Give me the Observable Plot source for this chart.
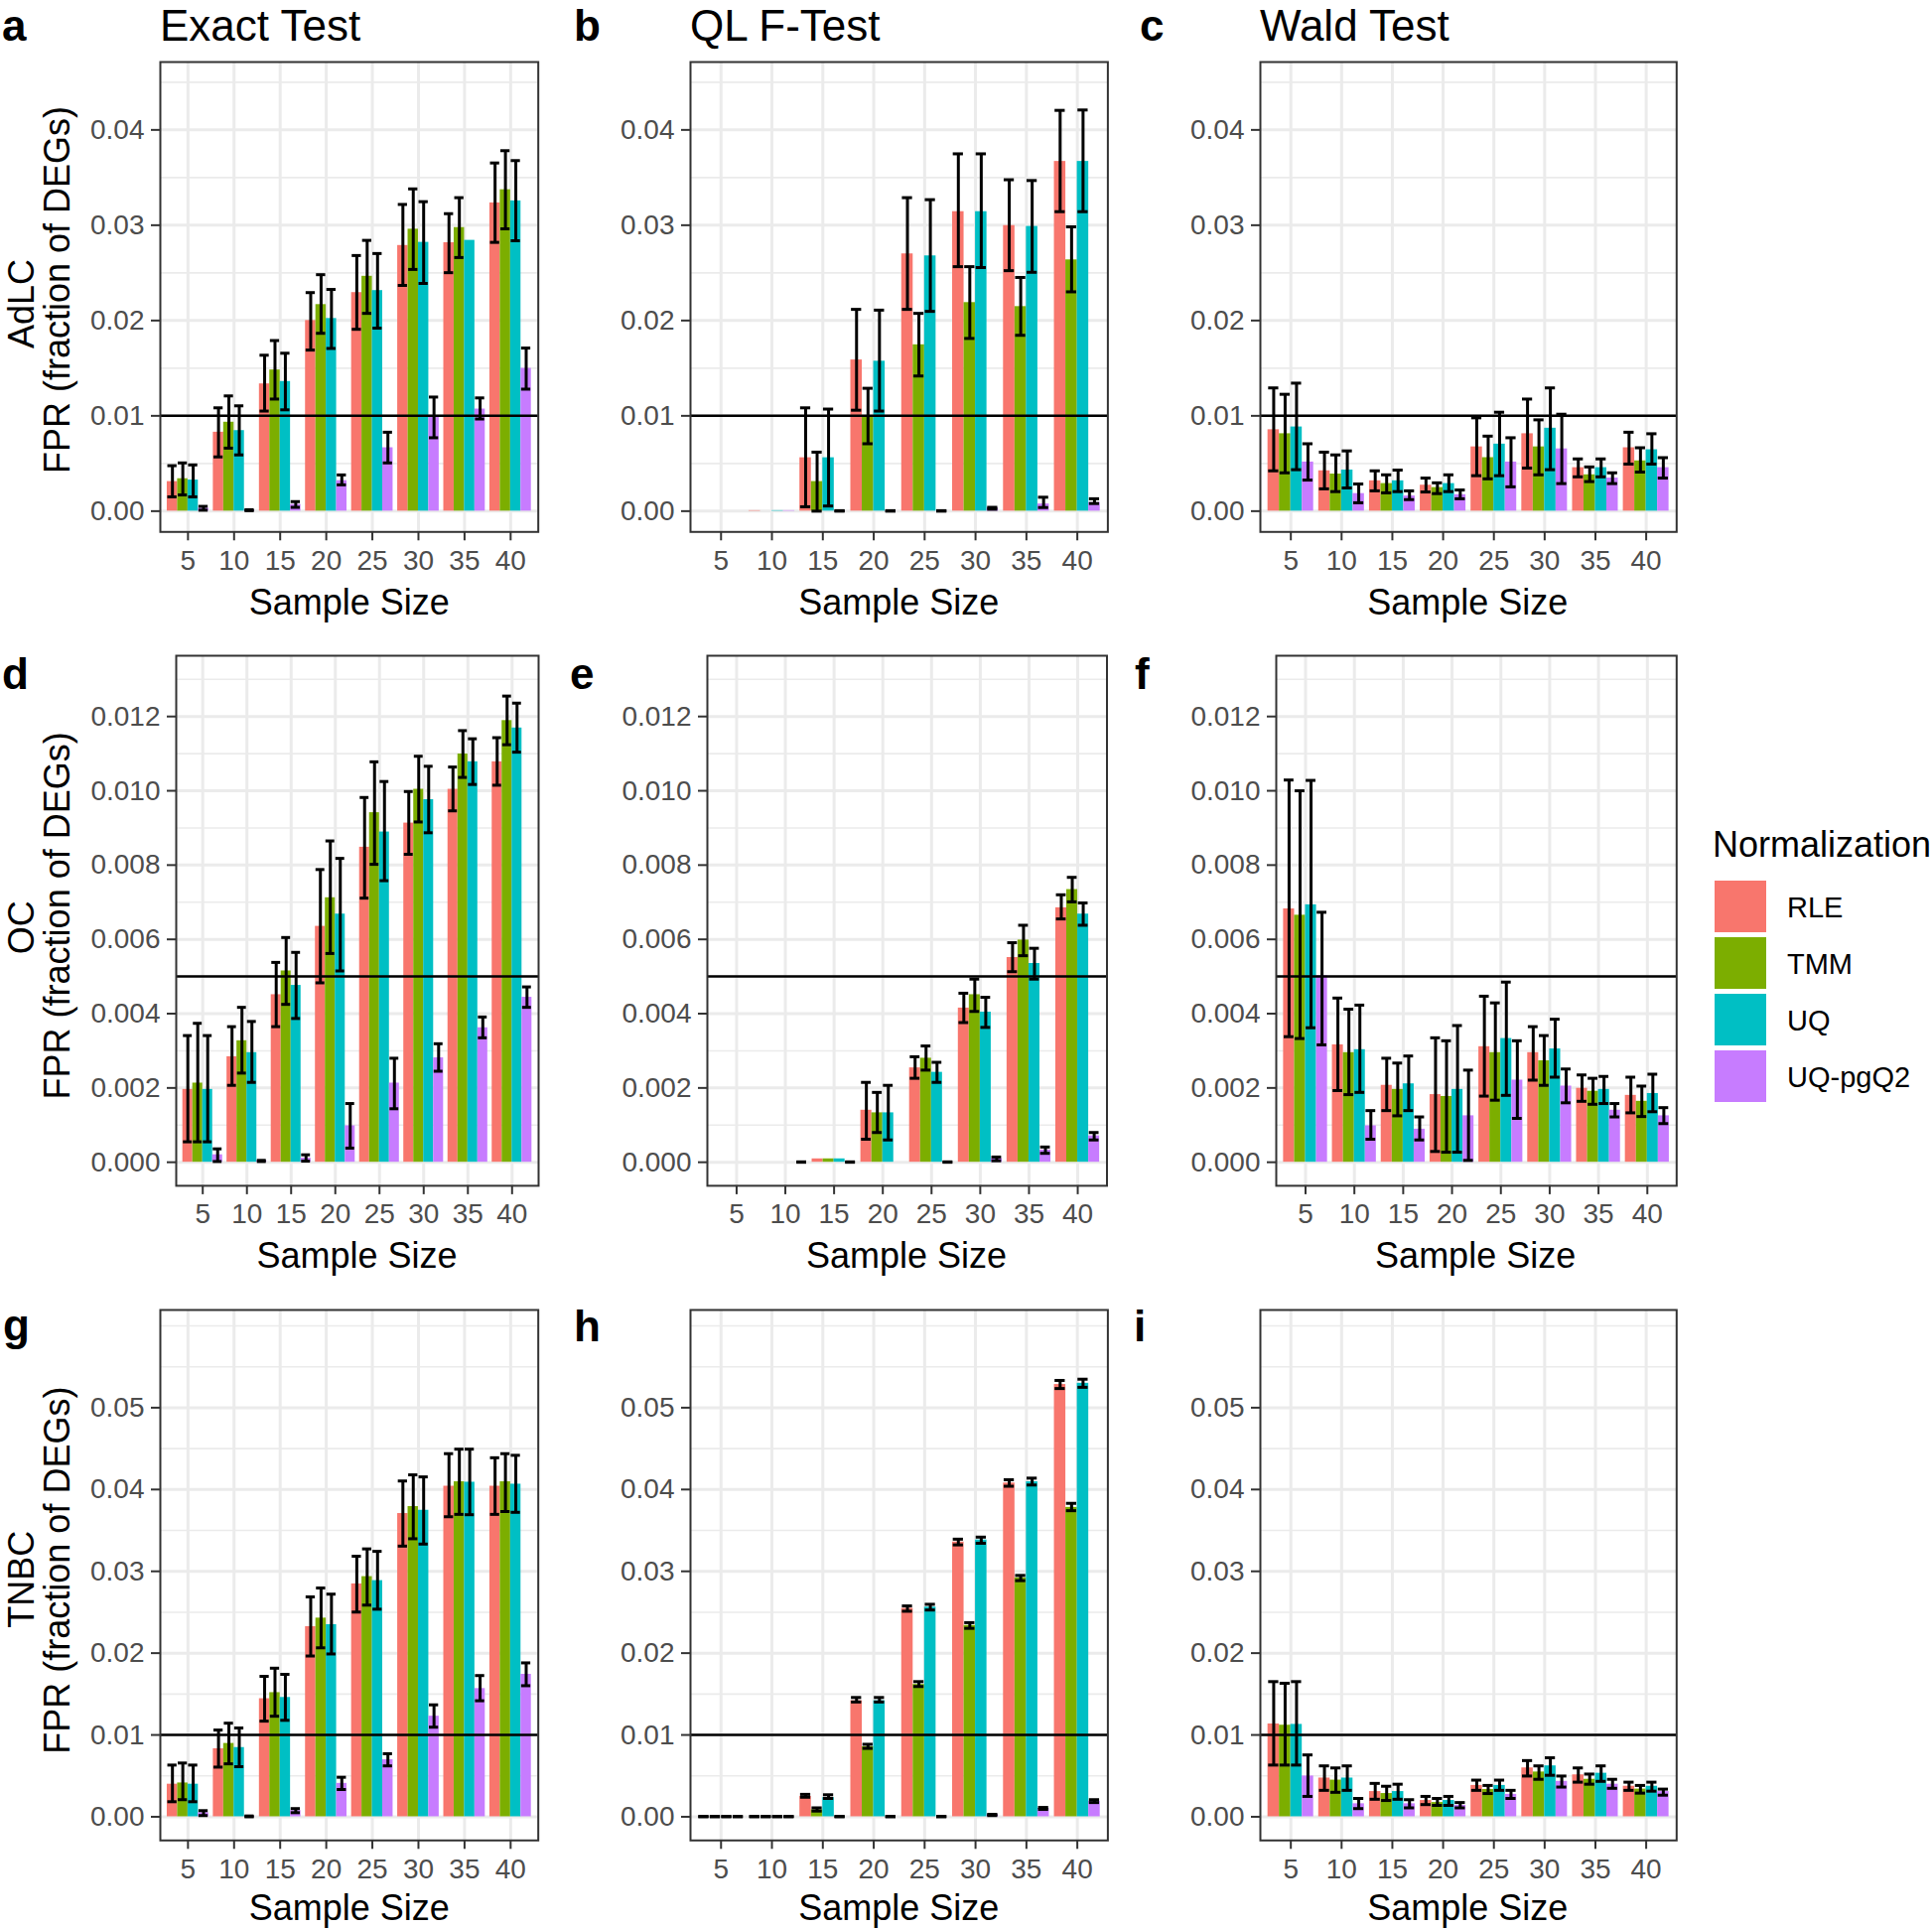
<!DOCTYPE html>
<html><head><meta charset="utf-8">
<script src="https://cdn.jsdelivr.net/npm/d3@7"></script>
<script src="https://cdn.jsdelivr.net/npm/@observablehq/plot@0.6"></script>
<style>
body{margin:0;background:#fff;}
#root{position:relative;width:1946px;height:1943px;background:#fff;overflow:hidden;font-family:"Liberation Sans",Arial,sans-serif;}
#root svg{position:absolute;overflow:visible;}
</style></head><body><div id="root"></div>
<script>
// ---------------- categories ----------------
const sampleSizes = [5, 10, 15, 20, 25, 30, 35, 40];
const methods = ["RLE", "TMM", "UQ", "UQ-pgQ2"];
const methodColors = ["#F8766D", "#7CAE00", "#00BFC4", "#C77CFF"];
const tests = ["Exact Test", "QL F-Test", "Wald Test"];
const datasets = ["AdLC", "OC", "TNBC"];
const panelLetters = ["a", "b", "c", "d", "e", "f", "g", "h", "i"];
const yTitle = "FPR (fraction of DEGs)";
const xTitle = "Sample Size";
const legendTitle = "Normalization";

// y tick labels per dataset row
const yTicksAdLC = [0, 0.01, 0.02, 0.03, 0.04];
const yMinorAdLC = [0.005, 0.015, 0.025, 0.035, 0.045];
const yTicksOC = [0, 0.002, 0.004, 0.006, 0.008, 0.010, 0.012];
const yMinorOC = [0.001, 0.003, 0.005, 0.007, 0.009, 0.011, 0.013];
const yTicksTNBC = [0, 0.01, 0.02, 0.03, 0.04, 0.05];
const yMinorTNBC = [0.005, 0.015, 0.025, 0.035, 0.045, 0.055, 0.06];
const refLines = [0.01, 0.005, 0.01];

// ---------------- values: rows = sample sizes, cols = RLE, TMM, UQ, UQ-pgQ2 ----------------
// a: Exact Test, AdLC
const exactAdLC_mean = [[0.0031,0.0034,0.00326,0.0003],[0.00828,0.00933,0.00845,0.0001],[0.01335,0.01481,0.0136,0.0007],[0.0200,0.02167,0.02021,0.0032],[0.02293,0.02464,0.02314,0.00665],[0.02787,0.02958,0.0282,0.00987],[0.02816,0.02975,0.02841,0.01071],[0.03234,0.03372,0.03255,0.01498]];
const exactAdLC_lo = [[0.0015,0.0017,0.0015,0.0001],[0.00569,0.00661,0.0059,0.00005],[0.0105,0.01176,0.01063,0.0004],[0.0169,0.01866,0.01707,0.00276],[0.01908,0.02075,0.0192,0.00506],[0.02368,0.02536,0.02389,0.0077],[0.02502,0.02661,null,0.00967],[0.0282,0.02962,0.02837,0.0128]];
const exactAdLC_hi = [[0.00477,0.00506,0.00485,0.0005],[0.01084,0.01209,0.01105,0.00015],[0.01636,0.0179,0.01657,0.0010],[0.02293,0.02481,0.02326,0.0038],[0.02682,0.02841,0.02703,0.00828],[0.03218,0.03381,0.03247,0.01197],[0.03121,0.03289,null,0.01188],[0.03653,0.03782,0.03678,0.01711]];
// b: QL F-Test, AdLC
const qlAdLC_mean = [[0,0,0,0],[0.00005,0,0.00005,0.00005],[0.0056,0.0031,0.0056,0.00002],[0.01586,0.00996,0.01573,0.00002],[0.02699,0.01745,0.02678,0.00002],[0.03142,0.02188,0.03142,0.0003],[0.02996,0.02146,0.02987,0.00075],[0.03669,0.02636,0.03669,0.0009]];
const qlAdLC_lo = [[null,null,null,null],[null,null,null,null],[0.00046,0,0.00054,0],[0.01059,0.00707,0.0105,0],[0.02117,0.01418,0.02096,0],[0.02565,0.01812,0.02556,0.0002],[0.02523,0.01845,0.02506,0.00038],[0.03142,0.02301,0.03142,0.0008]];
const qlAdLC_hi = [[null,null,null,null],[null,null,null,null],[0.01084,0.00619,0.01071,0.00005],[0.02117,0.01289,0.02109,0.00005],[0.03289,0.02075,0.03268,0.00005],[0.03749,0.02565,0.03749,0.0004],[0.03477,0.02452,0.03469,0.00146],[0.04205,0.02983,0.04209,0.0013]];
// c: Wald Test, AdLC
const waldAdLC_mean = [[0.00854,0.00812,0.00883,0.00515],[0.00423,0.00389,0.00431,0.00184],[0.00318,0.00289,0.00318,0.00159],[0.00272,0.00247,0.00289,0.00172],[0.00674,0.00561,0.00703,0.00515],[0.00812,0.00674,0.0087,0.00653],[0.00456,0.00381,0.00456,0.00347],[0.00665,0.00527,0.00644,0.00456]];
const waldAdLC_lo = [[0.00423,0.00402,0.00435,0.00326],[0.00234,0.00205,0.00243,0.00088],[0.00213,0.00192,0.00205,0.00121],[0.00201,0.00184,0.00205,0.0013],[0.00372,0.00339,0.00372,0.00255],[0.00452,0.00381,0.00435,0.00289],[0.0036,0.0031,0.0036,0.00289],[0.00494,0.0041,0.00494,0.00347]];
const waldAdLC_hi = [[0.01293,0.01226,0.01343,0.00707],[0.00619,0.0059,0.00632,0.00285],[0.00423,0.00381,0.00431,0.00213],[0.00347,0.00297,0.00381,0.00222],[0.00979,0.00787,0.01038,0.0077],[0.01176,0.00958,0.01293,0.01017],[0.00548,0.00464,0.00548,0.00402],[0.00828,0.00665,0.00812,0.00561]];
// d: Exact Test, OC
const exactOC_mean = [[0.00196,0.00213,0.00196,0.0002],[0.00284,0.00327,0.00295,0.00004],[0.00451,0.00515,0.00476,0.00011],[0.00635,0.00712,0.00668,0.00098],[0.00848,0.00941,0.00889,0.00213],[0.00913,0.01004,0.00976,0.00281],[0.01004,0.01099,0.01078,0.00362],[0.01078,0.01189,0.01169,0.00444]];
const exactOC_lo = [[0.00055,0.00055,0.00055,0.00002],[0.00207,0.0024,0.00215,0.00002],[0.00365,0.00425,0.00387,0.00003],[0.00483,0.00562,0.00515,0.00038],[0.00711,0.00802,0.00758,0.00144],[0.00829,0.00916,0.00887,0.00245],[0.00946,0.01036,0.01017,0.00335],[0.01015,0.01124,0.01104,0.00417]];
const exactOC_hi = [[0.00341,0.00374,0.00341,0.00036],[0.00365,0.00417,0.00379,0.00005],[0.00538,0.00605,0.00565,0.0002],[0.00788,0.00865,0.00818,0.00158],[0.00982,0.01078,0.01025,0.0028],[0.00998,0.01093,0.01066,0.00319],[0.01064,0.01162,0.0114,0.00391],[0.01143,0.01255,0.01236,0.00472]];
// e: QL F-Test, OC
const qlOC_mean = [[null,null,null,null],[0,0,0,0],[0.00009,0.00009,0.00009,0],[0.0014,0.00133,0.00133,null],[0.00254,0.0028,0.00242,0],[0.00415,0.00451,0.00404,0.0001],[0.00551,0.00598,0.00535,0.00033],[0.00685,0.00734,0.00668,0.00071]];
const qlOC_lo = [[null,null,null,null],[null,null,null,0],[null,null,null,0],[0.00062,0.0008,0.0006,null],[0.00226,0.00248,0.00215,0],[0.00376,0.00406,0.00363,0.00004],[0.00513,0.00556,0.00493,0.00024],[0.00655,0.00701,0.00638,0.0006]];
const qlOC_hi = [[null,null,null,null],[null,null,null,0.00001],[null,null,null,0.00001],[0.00215,0.00188,0.00207,null],[0.00284,0.00313,0.00269,0.00001],[0.00455,0.00493,0.00444,0.00014],[0.00591,0.00638,0.00576,0.00041],[0.0072,0.00767,0.00698,0.0008]];
// f: Wald Test, OC
const waldOC_mean = [[0.00682,0.00665,0.00693,0.00502],[0.00316,0.00295,0.00303,0.00098],[0.00207,0.00196,0.00211,0.00089],[0.00182,0.00177,0.00196,0.00125],[0.00311,0.00295,0.00333,0.00221],[0.00295,0.00273,0.00305,0.00205],[0.00199,0.00191,0.00196,0.0014],[0.0018,0.00164,0.00185,0.00125]];
const waldOC_lo = [[0.00338,0.00333,0.00362,0.00316],[0.00193,0.00182,0.00188,0.00062],[0.00139,0.00125,0.00139,0.0006],[0.00029,0.00027,0.00027,0.00005],[0.00178,0.00167,0.0018,0.00118],[0.00221,0.00207,0.00229,0.0016],[0.00164,0.00156,0.00158,0.00122],[0.00133,0.00123,0.00136,0.00104]];
const waldOC_hi = [[0.01029,0.01,0.01028,0.00673],[0.00442,0.00412,0.00423,0.00139],[0.0028,0.00267,0.00286,0.00122],[0.00335,0.00327,0.00368,0.00248],[0.00447,0.00429,0.00485,0.00327],[0.00365,0.00341,0.00385,0.00251],[0.00235,0.00226,0.00231,0.00158],[0.00229,0.00205,0.00237,0.00147]];
// g: Exact Test, TNBC
const exactTNBC_mean = [[0.00398,0.00413,0.00398,0.0005],[0.00831,0.00896,0.00846,0.00005],[0.01443,0.01517,0.01458,0.00075],[0.02323,0.02428,0.02348,0.00408],[0.02846,0.02935,0.02886,0.00697],[0.03706,0.03791,0.03746,0.01229],[0.0404,0.04094,0.04089,0.01567],[0.0404,0.04094,0.04065,0.01741]];
const exactTNBC_lo = [[0.00184,0.00209,0.00184,0.00015],[0.00607,0.00647,0.00612,0],[0.01169,0.01229,0.01179,0.0005],[0.01965,0.02065,0.0199,0.00333],[0.02502,0.02587,0.02537,0.00622],[0.03308,0.03398,0.03333,0.01095],[0.03667,0.03696,0.03692,0.01418],[0.03696,0.03731,0.03721,0.01602]];
const exactTNBC_hi = [[0.00632,0.00657,0.00632,0.00075],[0.0106,0.01144,0.01085,0.0001],[0.01716,0.01816,0.01741,0.001],[0.02687,0.02796,0.02721,0.00483],[0.03184,0.03274,0.03244,0.00771],[0.04104,0.04179,0.04154,0.01368],[0.04438,0.04493,0.04493,0.01726],[0.04388,0.04438,0.04418,0.01881]];
// h: QL F-Test, TNBC
const qlTNBC_mean = [[0,0,0,0],[0,0,0,0],[0.00249,0.00085,0.00234,0],[0.01418,0.00856,0.01418,0],[0.02547,0.01617,0.02562,0],[0.03358,0.02338,0.03383,0.00025],[0.04079,0.0292,0.04094,0.001],[0.05283,0.03781,0.05298,0.00189]];
const qlTNBC_lo = [[0,0,0,0],[0,0,0,0],[0.00239,0.0007,0.00224,0],[0.01403,0.00836,0.01403,0],[0.02512,0.01592,0.02527,0],[0.03323,0.02303,0.03343,0.00015],[0.0404,0.02886,0.04055,0.0009],[0.05234,0.03741,0.05249,0.00174]];
const qlTNBC_hi = [[0.00005,0.00005,0.00005,0.00005],[0.00005,0.00005,0.00005,0.00005],[0.00274,0.00109,0.00269,0.00005],[0.01458,0.00886,0.01458,0.00005],[0.02577,0.01652,0.02597,0.00005],[0.03393,0.02373,0.03418,0.0003],[0.04119,0.0295,0.04139,0.00114],[0.05333,0.03831,0.05348,0.00209]];
// i: Wald Test, TNBC
const waldTNBC_mean = [[0.01134,0.01119,0.01129,0.00498],[0.00473,0.00448,0.00473,0.00159],[0.00308,0.00284,0.00308,0.00159],[0.00199,0.00174,0.00199,0.00139],[0.00383,0.00333,0.00383,0.00274],[0.00597,0.00547,0.00622,0.00433],[0.00512,0.00458,0.00532,0.00398],[0.00373,0.00338,0.00373,0.00308]];
const waldTNBC_lo = [[0.00632,0.00632,0.00632,0.00249],[0.00323,0.00299,0.00323,0.001],[0.00214,0.00199,0.00214,0.00109],[0.00149,0.00139,0.00139,0.00109],[0.00323,0.00284,0.00323,0.00224],[0.00498,0.00458,0.00507,0.00363],[0.00423,0.00398,0.00433,0.00348],[0.00323,0.00289,0.00313,0.00264]];
const waldTNBC_hi = [[0.01652,0.01632,0.01652,0.00756],[0.00622,0.00597,0.00622,0.00224],[0.00408,0.00373,0.00398,0.00209],[0.00249,0.00224,0.00249,0.00174],[0.00448,0.00383,0.00448,0.00323],[0.00687,0.00622,0.00721,0.00498],[0.00597,0.00522,0.00622,0.00458],[0.00423,0.00383,0.00423,0.00338]];

// ---------------- assembly ----------------
const panelData = [
  [exactAdLC_mean, exactAdLC_lo, exactAdLC_hi], [qlAdLC_mean, qlAdLC_lo, qlAdLC_hi], [waldAdLC_mean, waldAdLC_lo, waldAdLC_hi],
  [exactOC_mean, exactOC_lo, exactOC_hi], [qlOC_mean, qlOC_lo, qlOC_hi], [waldOC_mean, waldOC_lo, waldOC_hi],
  [exactTNBC_mean, exactTNBC_lo, exactTNBC_hi], [qlTNBC_mean, qlTNBC_lo, qlTNBC_hi], [waldTNBC_mean, waldTNBC_lo, waldTNBC_hi]
];
const rowScales = [
  {domain: [-0.00218, 0.04712], ticks: yTicksAdLC, minor: yMinorAdLC, fmt: ".2f"},
  {domain: [-0.000634, 0.013636], ticks: yTicksOC, minor: yMinorOC, fmt: ".3f"},
  {domain: [-0.00289, 0.06194], ticks: yTicksTNBC, minor: yMinorTNBC, fmt: ".2f"}
];
// layout (pixels)
const rowBox = [[62.3, 535.6], [660.4, 1194.3], [1318.5, 1852.8]];
const colBox = [
  [[161.4, 542.1], [695, 1115.4], [1268.6, 1687.9]],
  [[177.1, 542.1], [711.8, 1114.3], [1284.5, 1687.8]],
  [[161.4, 542.1], [695, 1115.4], [1268.6, 1687.9]]
];
const FONT = '"Liberation Sans", Arial, Helvetica, sans-serif';
const root = document.getElementById("root");
const GW = 0.9 * 5, BW = 0.225 * 5; // dodge width and bar width in sample-size units

for (let r = 0; r < 3; r++) {
  for (let c = 0; c < 3; c++) {
    const [mean, lo, hi] = panelData[r * 3 + c];
    const rows = [];
    sampleSizes.forEach((s, i) => methods.forEach((m, k) => {
      if (mean[i][k] == null) return;
      rows.push({size: s, method: m, k, mean: mean[i][k], lo: lo[i][k], hi: hi[i][k]});
    }));
    const err = rows.filter(d => d.lo != null && d.hi != null);
    const xL = d => d.size - GW / 2 + d.k * BW;
    const xR = d => d.size - GW / 2 + (d.k + 1) * BW;
    const xC = d => d.size - GW / 2 + (d.k + 0.5) * BW;
    const [top, bottom] = rowBox[r];
    const [left, right] = colBox[r][c];
    const mL = 110, mR = 6, mT = 6, mB = 60;
    const W = right - left, H = bottom - top;
    const rs = rowScales[r];
    const fmt = d3.format(rs.fmt);
    const svg = Plot.plot({
      width: W + mL + mR, height: H + mT + mB,
      marginLeft: mL, marginRight: mR, marginTop: mT, marginBottom: mB,
      x: {type: "linear", domain: [2, 43]},
      y: {domain: rs.domain},
      color: {domain: methods, range: methodColors},
      style: {fontFamily: FONT, background: "transparent", overflow: "visible"},
      marks: [
        Plot.gridY(rs.minor, {stroke: "#EBEBEB", strokeOpacity: 1, strokeWidth: 1.6}),
        Plot.gridY(rs.ticks, {stroke: "#EBEBEB", strokeOpacity: 1, strokeWidth: 3}),
        Plot.gridX(sampleSizes, {stroke: "#EBEBEB", strokeOpacity: 1, strokeWidth: 3}),
        Plot.rect(rows, {x1: xL, x2: xR, y1: 0, y2: "mean", fill: "method"}),
        Plot.ruleY([refLines[r]], {stroke: "black", strokeWidth: 2.5}),
        Plot.ruleX(err, {x: xC, y1: "lo", y2: "hi", stroke: "black", strokeWidth: 3}),
        Plot.ruleY(err, {y: "lo", x1: d => xC(d) - 0.5, x2: d => xC(d) + 0.5, stroke: "black", strokeWidth: 3}),
        Plot.ruleY(err, {y: "hi", x1: d => xC(d) - 0.5, x2: d => xC(d) + 0.5, stroke: "black", strokeWidth: 3}),
        Plot.frame({stroke: "#333333", strokeWidth: 2}),
        Plot.axisY(rs.ticks, {tickSize: 9, tickPadding: 7, tickFormat: fmt, stroke: "#333333", strokeWidth: 2, fill: "#4D4D4D", fontSize: 28, label: null}),
        Plot.axisX(sampleSizes, {tickSize: 9, tickPadding: 9, stroke: "#333333", strokeWidth: 2, fill: "#4D4D4D", fontSize: 28, label: null})
      ]
    });
    svg.style.left = (left - mL) + "px";
    svg.style.top = (top - mT) + "px";
    root.appendChild(svg);
  }
}

// ---------------- text overlay ----------------
const ov = d3.select(root).append("svg")
  .attr("width", 1946).attr("height", 1943)
  .style("left", "0px").style("top", "0px")
  .style("font-family", FONT);

const titleX = [161, 695, 1269];
tests.forEach((t, c) => ov.append("text").attr("x", titleX[c]).attr("y", 41).attr("font-size", 44).attr("fill", "black").text(t));

const letterPos = [[2, 41], [578, 41], [1148, 41], [2, 694], [574, 694], [1143, 694], [3, 1350], [578, 1351], [1142, 1351]];
panelLetters.forEach((l, i) => ov.append("text").attr("x", letterPos[i][0]).attr("y", letterPos[i][1])
  .attr("font-size", 44).attr("font-weight", "bold").attr("fill", "black").text(l));

const nameShift = [7, 7, 5], fprShift = [-7, -5, -4];
for (let r = 0; r < 3; r++) {
  const cy = (rowBox[r][0] + rowBox[r][1]) / 2;
  ov.append("text").attr("transform", `translate(34,${cy + nameShift[r]}) rotate(-90)`)
    .attr("text-anchor", "middle").attr("font-size", 36).attr("fill", "black").text(datasets[r]);
  ov.append("text").attr("transform", `translate(70,${cy + fprShift[r]}) rotate(-90)`)
    .attr("text-anchor", "middle").attr("font-size", 36).attr("fill", "black").text(yTitle);
  for (let c = 0; c < 3; c++) {
    const [left, right] = colBox[r][c];
    ov.append("text").attr("x", (left + right) / 2).attr("y", Math.min(rowBox[r][1] + 83, 1934))
      .attr("text-anchor", "middle").attr("font-size", 36).attr("fill", "black").text(xTitle);
  }
}

// legend
ov.append("text").attr("x", 1725).attr("y", 863).attr("font-size", 36).attr("fill", "black").text(legendTitle);
methods.forEach((m, i) => {
  const y0 = 887 + i * 57;
  ov.append("rect").attr("x", 1727).attr("y", y0).attr("width", 52).attr("height", 52).attr("fill", methodColors[i]);
  ov.append("text").attr("x", 1800).attr("y", y0 + 26 + 10.5).attr("font-size", 29).attr("fill", "black").text(m);
});
</script>
</body></html>
